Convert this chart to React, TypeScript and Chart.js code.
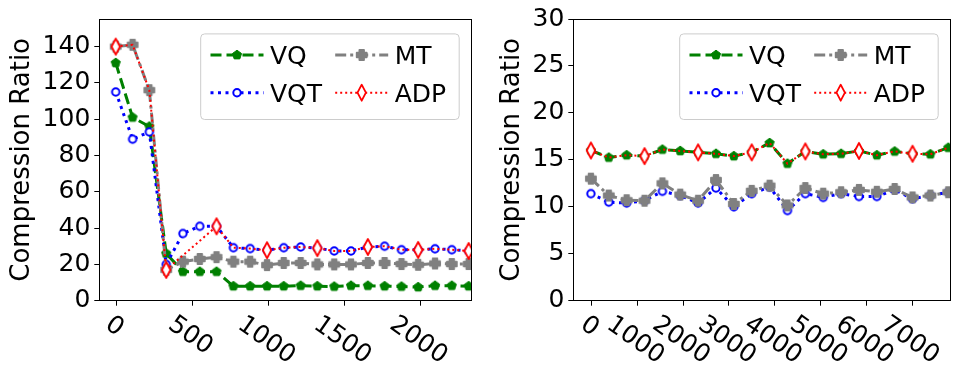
import React, { useEffect, useRef } from 'react';
import { Chart, registerables } from 'chart.js';

Chart.register(...registerables);

// ---------------- data ----------------
const LEFT_X = [0, 111, 221, 332, 442, 553, 663, 774, 884, 995, 1105, 1216, 1326, 1437, 1547, 1658, 1768, 1879, 1989, 2100, 2210, 2321];
const LEFT_VQ = [131, 101, 96, 26, 16, 16, 16, 8, 8, 8, 8, 8.3, 8, 7.8, 8.3, 8.3, 8, 7.8, 7.5, 8.3, 8.3, 8];
const LEFT_VQT = [115, 89, 93, 20, 37, 41, 41, 29.2, 28.7, 27.8, 29.2, 29.6, 29, 27.4, 27.4, 29.6, 30, 28.1, 28, 28.6, 28.1, 27.4];
const LEFT_MT = [140, 141, 116, 17, 21.5, 23, 24, 21.5, 21.5, 19.6, 20.8, 20.8, 20, 20, 20, 20.8, 20.8, 20.2, 19.8, 20.5, 20.2, 20.2];
const LEFT_ADP = [140, 141, 116, 17, 25, 33, 41, 29.2, 28.7, 27.8, 29.2, 29.6, 29, 27.4, 27.4, 29.6, 30, 28.1, 28, 28.6, 28.1, 27.4];
const LEFT_X_TICKS = [0, 500, 1000, 1500, 2000];
const LEFT_Y_TICKS = [0, 20, 40, 60, 80, 100, 120, 140];

const RIGHT_X = [0, 390, 780, 1170, 1560, 1950, 2340, 2730, 3120, 3510, 3900, 4290, 4680, 5070, 5460, 5850, 6240, 6630, 7020, 7410, 7800];
const RIGHT_VQ = [16.0, 15.25, 15.5, 15.4, 16.1, 15.95, 15.8, 15.65, 15.4, 15.8, 16.8, 14.6, 15.9, 15.6, 15.65, 15.95, 15.5, 15.9, 15.65, 15.6, 16.3];
const RIGHT_VQT = [11.4, 10.5, 10.4, 10.65, 11.65, 11.2, 10.4, 12.0, 10.0, 11.4, 12.1, 9.6, 11.4, 11.0, 11.4, 11.1, 11.1, 11.8, 10.85, 11.2, 11.55];
const RIGHT_MT = [13.0, 11.2, 10.7, 10.65, 12.5, 11.3, 10.65, 12.85, 10.3, 11.7, 12.25, 10.15, 12.0, 11.4, 11.55, 11.8, 11.6, 11.9, 11.0, 11.2, 11.55];
const RIGHT_ADP = [16.0, 15.25, 15.5, 15.4, 16.1, 15.95, 15.8, 15.65, 15.4, 15.8, 16.8, 14.6, 15.9, 15.6, 15.65, 15.95, 15.5, 15.9, 15.65, 15.6, 16.3];
const RIGHT_X_TICKS = [0, 1000, 2000, 3000, 4000, 5000, 6000, 7000];
const RIGHT_Y_TICKS = [0, 5, 10, 15, 20, 25, 30];

const SERIES_LABELS = ['VQ', 'VQT', 'MT', 'ADP'];
const Y_TITLE = 'Compression Ratio';

// ---------------- styles ----------------
const FONT = '"DejaVu Sans", sans-serif';
const STYLES: any = {
  VQ: { color: '#008000', dash: [11, 5], lw: 3, marker: 'pent' },
  VQT: { color: '#0000ff', dash: [3, 4.5], lw: 3, marker: 'circle' },
  MT: { color: '#808080', dash: [11, 4, 3, 4], lw: 3, marker: 'plus' },
  ADP: { color: '#ff0000', dash: [2, 3], lw: 2, marker: 'diamond' },
};

function drawMarker(ctx: CanvasRenderingContext2D, kind: string, x: number, y: number) {
  ctx.save();
  ctx.setLineDash([]);
  ctx.lineJoin = 'round';
  ctx.beginPath();
  if (kind === 'pent') {
    const r = 4.8;
    for (let i = 0; i < 5; i++) {
      const a = -Math.PI / 2 + (i * 2 * Math.PI) / 5;
      const px = x + r * Math.cos(a);
      const py = y + r * Math.sin(a);
      if (i === 0) ctx.moveTo(px, py); else ctx.lineTo(px, py);
    }
    ctx.closePath();
    ctx.fillStyle = '#008000';
    ctx.fill();
    ctx.strokeStyle = '#008000';
    ctx.lineWidth = 1;
    ctx.stroke();
  } else if (kind === 'plus') {
    const a = 2.3, r = 5;
    const pts = [[-a, -r], [a, -r], [a, -a], [r, -a], [r, a], [a, a], [a, r], [-a, r], [-a, a], [-r, a], [-r, -a], [-a, -a]];
    pts.forEach((p, i) => (i === 0 ? ctx.moveTo(x + p[0], y + p[1]) : ctx.lineTo(x + p[0], y + p[1])));
    ctx.closePath();
    ctx.fillStyle = '#808080';
    ctx.fill();
    ctx.strokeStyle = '#808080';
    ctx.lineWidth = 1.8;
    ctx.stroke();
  } else if (kind === 'circle') {
    ctx.arc(x, y, 3.7, 0, Math.PI * 2);
    ctx.fillStyle = '#ffffff';
    ctx.fill();
    ctx.strokeStyle = '#0000ff';
    ctx.lineWidth = 2;
    ctx.stroke();
  } else if (kind === 'diamond') {
    ctx.moveTo(x, y - 8);
    ctx.lineTo(x + 4.2, y);
    ctx.lineTo(x, y + 8);
    ctx.lineTo(x - 4.2, y);
    ctx.closePath();
    ctx.fillStyle = '#ffffff';
    ctx.fill();
    ctx.strokeStyle = '#ff0000';
    ctx.lineWidth = 1.8;
    ctx.stroke();
  }
  ctx.restore();
}

function makeMarkerCanvas(kind: string) {
  const c = document.createElement('canvas');
  c.width = 22;
  c.height = 22;
  const ctx = c.getContext('2d') as CanvasRenderingContext2D;
  drawMarker(ctx, kind, 11, 11);
  return c;
}

interface PanelCfg {
  xs: number[];
  series: number[][];
  xMin: number;
  xMax: number;
  yMax: number;
  xTicks: number[];
  yTicks: number[];
  yAxisWidth: number;
  padRight: number;
  titleX: number;
}

function buildChart(canvas: HTMLCanvasElement, cfg: PanelCfg) {
  const markers: any = {};
  SERIES_LABELS.forEach((l) => (markers[l] = makeMarkerCanvas(STYLES[l].marker)));
  const orders: any = { VQ: 3, VQT: 2, MT: 1, ADP: 0 };

  const datasets = SERIES_LABELS.map((label, si) => {
    const st = STYLES[label];
    const vals = cfg.series[si];
    const radii = cfg.xs.map((_, i) => (label === 'ADP' ? (i % 3 === 0 ? 5 : 0) : 5));
    return {
      label,
      data: cfg.xs.map((x, i) => ({ x, y: vals[i] })),
      borderColor: st.color,
      backgroundColor: st.color,
      borderWidth: st.lw,
      borderDash: st.dash,
      borderCapStyle: 'butt',
      pointStyle: markers[label],
      pointRadius: radii,
      pointHoverRadius: radii,
      tension: 0,
      fill: false,
      clip: 0,
      order: orders[label],
    };
  });

  const plotH = 300.7;
  const topPad = 17.3;

  const decor = {
    id: 'decor',
    afterDraw(chart: any) {
      const ctx: CanvasRenderingContext2D = chart.ctx;
      const a = chart.chartArea;
      const xs = chart.scales.x;
      ctx.save();
      // frame
      ctx.strokeStyle = '#000';
      ctx.lineWidth = 1;
      ctx.setLineDash([]);
      ctx.strokeRect(Math.round(a.left) + 0.5, Math.round(a.top) + 0.5, Math.round(a.right - a.left) - 1, Math.round(a.bottom - a.top) - 1);
      // x ticks and labels
      const theta = (35 * Math.PI) / 180;
      ctx.font = `25px ${FONT}`;
      ctx.fillStyle = '#000';
      cfg.xTicks.forEach((v) => {
        const px = xs.getPixelForValue(v);
        ctx.beginPath();
        ctx.moveTo(Math.round(px) + 0.5, a.bottom);
        ctx.lineTo(Math.round(px) + 0.5, a.bottom + 5);
        ctx.stroke();
        const txt = String(v);
        const w = ctx.measureText(txt).width;
        const h = 18.2;
        const bh = w * Math.sin(theta) + h * Math.cos(theta);
        const cy = a.bottom + 12 + bh / 2;
        ctx.save();
        ctx.translate(px, cy);
        ctx.rotate(theta);
        ctx.textAlign = 'center';
        ctx.textBaseline = 'alphabetic';
        ctx.fillText(txt, 0, h / 2);
        ctx.restore();
      });
      // y title
      ctx.save();
      ctx.translate(cfg.titleX, (a.top + a.bottom) / 2);
      ctx.rotate(-Math.PI / 2);
      ctx.font = `26px ${FONT}`;
      ctx.textAlign = 'center';
      ctx.textBaseline = 'middle';
      ctx.fillText(Y_TITLE, 0, 0);
      ctx.restore();
      // legend
      const boxR = a.right - 13.3;
      const boxW = 258.5;
      const boxL = boxR - boxW;
      const boxT = a.top + 14.4;
      const boxH = 85.6;
      ctx.beginPath();
      (ctx as any).roundRect(boxL + 0.5, boxT + 0.5, boxW, boxH, 4);
      ctx.fillStyle = 'rgba(255,255,255,0.8)';
      ctx.fill();
      ctx.strokeStyle = '#cccccc';
      ctx.lineWidth = 1;
      ctx.stroke();
      const entries = [
        { label: 'VQ', col: 0, row: 0 },
        { label: 'VQT', col: 0, row: 1 },
        { label: 'MT', col: 1, row: 0 },
        { label: 'ADP', col: 1, row: 1 },
      ];
      entries.forEach((e) => {
        const st = STYLES[e.label];
        const y = boxT + 21.6 + e.row * 37.7;
        const x0 = boxL + (e.col === 0 ? 10.3 : 135);
        const x1 = x0 + 53;
        ctx.beginPath();
        ctx.setLineDash(st.dash);
        ctx.strokeStyle = st.color;
        ctx.lineWidth = st.lw;
        ctx.lineCap = 'butt';
        ctx.moveTo(x0, y);
        ctx.lineTo(x1, y);
        ctx.stroke();
        ctx.setLineDash([]);
        drawMarker(ctx, st.marker, (x0 + x1) / 2, y);
        ctx.fillStyle = '#000';
        ctx.font = `25px ${FONT}`;
        ctx.textAlign = 'left';
        ctx.textBaseline = 'alphabetic';
        ctx.fillText(e.label, x1 + 6.5, y + 9.1);
      });
      ctx.restore();
    },
  };

  return new Chart(canvas, {
    type: 'line',
    data: { datasets: datasets as any },
    options: {
      responsive: false,
      animation: false,
      events: [],
      layout: { padding: { top: topPad, right: cfg.padRight, left: 0, bottom: 0 } },
      plugins: { legend: { display: false }, tooltip: { enabled: false }, title: { display: false } },
      scales: {
        x: {
          type: 'linear',
          min: cfg.xMin,
          max: cfg.xMax,
          ticks: { display: false },
          grid: { display: false },
          border: { display: false },
          afterFit: (s: any) => {
            s.height = 368 - plotH;
          },
        },
        y: {
          type: 'linear',
          min: 0,
          max: cfg.yMax,
          afterBuildTicks: (s: any) => {
            s.ticks = cfg.yTicks.map((v) => ({ value: v }));
          },
          ticks: {
            autoSkip: false,
            color: '#000',
            padding: 4,
            font: { family: FONT, size: 25 },
          },
          grid: { drawOnChartArea: false, drawTicks: true, tickLength: 5, color: '#000', lineWidth: 1 },
          border: { display: false },
          afterFit: (s: any) => {
            s.width = cfg.yAxisWidth;
          },
        },
      },
    } as any,
    plugins: [decor],
  });
}

export default function App() {
  const leftRef = useRef<HTMLCanvasElement>(null);
  const rightRef = useRef<HTMLCanvasElement>(null);

  useEffect(() => {
    const c1 = buildChart(leftRef.current as HTMLCanvasElement, {
      xs: LEFT_X,
      series: [LEFT_VQ, LEFT_VQT, LEFT_MT, LEFT_ADP],
      xMin: -108,
      xMax: 2343,
      yMax: 155.2,
      xTicks: LEFT_X_TICKS,
      yTicks: LEFT_Y_TICKS,
      yAxisWidth: 99.3,
      padRight: 1,
      titleX: 22.5,
    });
    const c2 = buildChart(rightRef.current as HTMLCanvasElement, {
      xs: RIGHT_X,
      series: [RIGHT_VQ, RIGHT_VQT, RIGHT_MT, RIGHT_ADP],
      xMin: -384,
      xMax: 7859,
      yMax: 30,
      xTicks: RIGHT_X_TICKS,
      yTicks: RIGHT_Y_TICKS,
      yAxisWidth: 93.3,
      padRight: 6,
      titleX: 32.5,
    });
    return () => {
      c1.destroy();
      c2.destroy();
    };
  }, []);

  return (
    <div style={{ position: 'absolute', left: 0, top: 0, width: 959, height: 368, background: '#fff' }}>
      <canvas ref={leftRef} width={480} height={368} style={{ position: 'absolute', left: 0, top: 0, width: 480, height: 368 }} />
      <canvas ref={rightRef} width={479} height={368} style={{ position: 'absolute', left: 480, top: 0, width: 479, height: 368 }} />
    </div>
  );
}
